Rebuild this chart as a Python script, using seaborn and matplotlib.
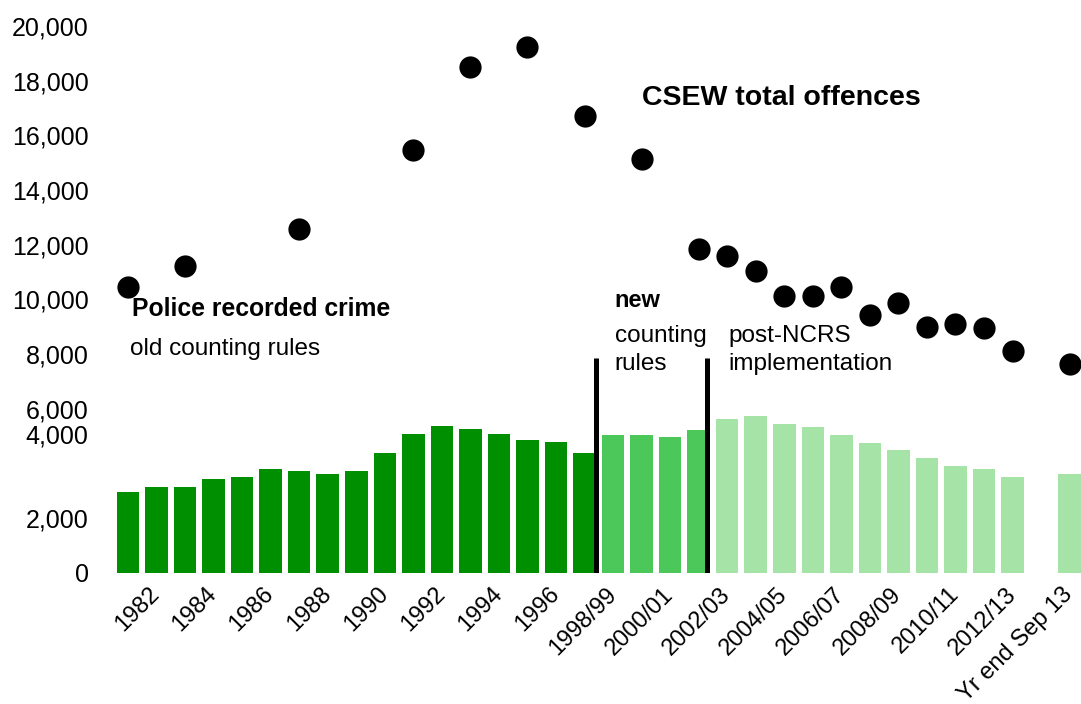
import matplotlib
matplotlib.use("Agg")
import matplotlib.pyplot as plt
import seaborn as sns
import pandas as pd

# Year slots along the x axis (one blank slot before the latest rolling year)
periods = ['1981', '1982', '1983', '1984', '1985', '1986', '1987', '1988', '1989',
           '1990', '1991', '1992', '1993', '1994', '1995', '1996', '1997',
           '1998/99', '1999/00', '2000/01', '2001/02', '2002/03', '2003/04',
           '2004/05', '2005/06', '2006/07', '2007/08', '2008/09', '2009/10',
           '2010/11', '2011/12', '2012/13', ' ', 'Yr end Sep 13']

# Police recorded crime (thousands), by counting regime
old_rules_periods = periods[0:17]
old_rules_values = [2950, 3140, 3140, 3440, 3520, 3810, 3730, 3620, 3730,
                    4390, 5070, 5360, 5250, 5070, 4860, 4780, 4390]
new_rules_periods = ['1998/99', '1999/00', '2000/01', '2001/02']
new_rules_values = [5050, 5050, 4960, 5230]
ncrs_periods = ['2002/03', '2003/04', '2004/05', '2005/06', '2006/07', '2007/08',
                '2008/09', '2009/10', '2010/11', '2011/12', '2012/13', 'Yr end Sep 13']
ncrs_values = [5630, 5730, 5440, 5340, 5050, 4750, 4490, 4190, 3900, 3800, 3500, 3620]

# CSEW total offences (thousands)
csew_periods = ['1981', '1983', '1987', '1991', '1993', '1995', '1997', '1999/00',
                '2001/02', '2002/03', '2003/04', '2004/05', '2005/06', '2006/07',
                '2007/08', '2008/09', '2009/10', '2010/11', '2011/12', '2012/13',
                'Yr end Sep 13']
csew_values = [10470, 11240, 12580, 15480, 18500, 19220, 16720, 15140,
               11850, 11600, 11040, 10130, 10130, 10450, 9430, 9880, 9010,
               9100, 8970, 8130, 7640]

# Axis labels
x_tick_labels = ['1982', '1984', '1986', '1988', '1990', '1992', '1994', '1996',
                 '1998/99', '2000/01', '2002/03', '2004/05', '2006/07', '2008/09',
                 '2010/11', '2012/13', 'Yr end Sep 13']
y_tick_values = [0, 2000, 5080, 6000, 8000, 10000, 12000, 14000, 16000, 18000, 20000]
y_tick_labels = ['0', '2,000', '4,000', '6,000', '8,000', '10,000', '12,000',
                 '14,000', '16,000', '18,000', '20,000']

series_names = ['old counting rules', 'new counting rules', 'post-NCRS']
series_colors = ['#008f00', '#4cc85a', '#a5e3a7']

sns.set_theme(style='white')
plt.rcParams['font.family'] = ['Liberation Sans', 'DejaVu Sans']
plt.rcParams['text.color'] = 'black'
plt.rcParams['xtick.color'] = 'black'
plt.rcParams['ytick.color'] = 'black'

bars = pd.DataFrame({
    'period': old_rules_periods + new_rules_periods + ncrs_periods,
    'offences': old_rules_values + new_rules_values + ncrs_values,
    'series': ([series_names[0]] * len(old_rules_values)
               + [series_names[1]] * len(new_rules_values)
               + [series_names[2]] * len(ncrs_values)),
})
survey = pd.DataFrame({'period': csew_periods, 'offences': csew_values})

fig = plt.figure(figsize=(10.81, 7.04), dpi=100)
ax = fig.add_axes([0.1026, 0.1861, 0.8974, 0.7964])

sns.barplot(data=bars, x='period', y='offences', hue='series', order=periods,
            hue_order=series_names, palette=series_colors, dodge=False,
            width=0.79, linewidth=0, saturation=1, errorbar=None,
            legend=False, ax=ax)

sns.stripplot(data=survey, x='period', y='offences', order=periods,
              jitter=False, color='black', size=16, linewidth=0,
              ax=ax, zorder=4)

# Dividers where the police counting rules changed
dividers = [periods.index('1997') + 0.4, periods.index('2001/02') + 0.3]
ax.vlines(dividers, 0, 7860, color='black', linewidth=3.6, zorder=3)

ax.set_xlim(-0.6, 33.4)
ax.set_ylim(0, 20500)
for side in ax.spines.values():
    side.set_visible(False)

ax.set_xticks([periods.index(p) for p in x_tick_labels])
ax.set_xticklabels(x_tick_labels, rotation=45, ha='right', va='center',
                   rotation_mode='anchor', fontsize=17)
ax.set_yticks(y_tick_values)
ax.set_yticklabels(y_tick_labels, fontsize=18)
ax.tick_params(axis='x', length=0, pad=13, colors='black')
ax.tick_params(axis='y', length=0, pad=16, colors='black')
ax.set_xlabel('')
ax.set_ylabel('')

ax.text(18.0, 17110, 'CSEW total offences', fontsize=20.5, fontweight='bold',
        ha='left', va='baseline', color='black')
ax.text(0.13, 9400, 'Police recorded crime', fontsize=17.8, fontweight='bold',
        ha='left', va='baseline', color='black')
ax.text(0.07, 7970, 'old counting rules', fontsize=17.5, ha='left',
        va='baseline', color='black')
ax.text(17.06, 9740, 'new', fontsize=17, fontweight='bold', ha='left',
        va='baseline', color='black')
ax.text(17.06, 8460, 'counting', fontsize=17.5, ha='left', va='baseline',
        color='black')
ax.text(17.06, 7420, 'rules', fontsize=17.5, ha='left', va='baseline',
        color='black')
ax.text(21.05, 8460, 'post-NCRS', fontsize=17.5, ha='left', va='baseline',
        color='black')
ax.text(21.05, 7420, 'implementation', fontsize=17.5, ha='left', va='baseline',
        color='black')

fig.savefig('out.png', dpi=100)
